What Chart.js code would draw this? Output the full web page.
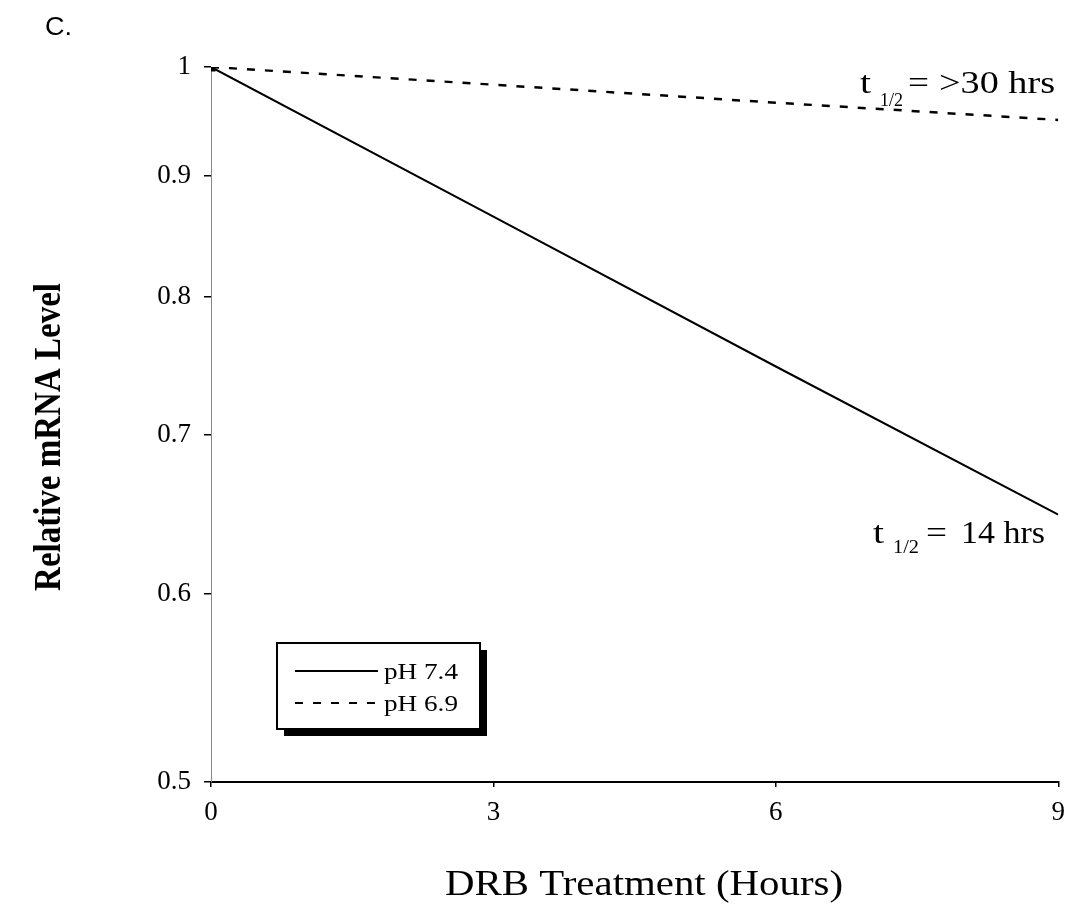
<!DOCTYPE html>
<html>
<head>
<meta charset="utf-8">
<script src="https://cdn.jsdelivr.net/npm/chart.js@4"></script>
<style>
html,body{margin:0;padding:0;background:#fff;}
canvas{display:block;}
</style>
</head>
<body>
<canvas id="c" width="1075" height="904"></canvas>
<script>
// ---- data ----
const hours = [0, 3, 6, 9];
const ph74 = [1.0, 0.865, 0.748, 0.648];
const ph69 = [1.0, 0.983, 0.966, 0.950];
const seriesLabels = ['pH 7.4', 'pH 6.9'];
const yTickValues = [0.5, 0.6, 0.7, 0.8, 0.9, 1];
const xTickValues = [0, 3, 6, 9];
const panelLabel = 'C.';
const xTitle = 'DRB Treatment (Hours)';
const yTitle = 'Relative mRNA Level';
const halfLives = ['>30 hrs', '14 hrs'];

const SERIF = '"Liberation Serif", "Times New Roman", serif';

// draw text horizontally scaled so it spans the given width
function fitText(ctx, text, x, y, width, font) {
  ctx.save();
  ctx.font = font;
  ctx.textAlign = 'left';
  const w = ctx.measureText(text).width;
  ctx.translate(x, y);
  ctx.scale(width / w, 1);
  ctx.fillText(text, 0, 0);
  ctx.restore();
}

const textPlugin = {
  id: 'texts',
  afterDraw(chart) {
    const ctx = chart.ctx;
    ctx.save();
    ctx.fillStyle = '#000';
    ctx.textBaseline = 'alphabetic';
    // panel label
    fitText(ctx, panelLabel, 45, 35, 27, '25px "Liberation Sans", Arial, sans-serif');
    // x title
    fitText(ctx, xTitle, 445, 895, 398, '35px ' + SERIF);
    // y title (rotated)
    ctx.save();
    ctx.translate(60, 437);
    ctx.rotate(-Math.PI / 2);
    ctx.scale(1, 1.12);
    ctx.font = 'bold 33px ' + SERIF;
    ctx.textAlign = 'center';
    ctx.fillText(yTitle, 0, 0);
    ctx.restore();
    // half-life annotations
    fitText(ctx, 't', 860, 93, 11, '32px ' + SERIF);
    fitText(ctx, '1/2', 880, 106, 23, '19px ' + SERIF);
    fitText(ctx, '=', 908, 93, 21, '32px ' + SERIF);
    fitText(ctx, halfLives[0], 939, 93, 116, '32px ' + SERIF);

    fitText(ctx, 't', 873, 543, 11, '32px ' + SERIF);
    fitText(ctx, '1/2', 893, 553, 26, '19px ' + SERIF);
    fitText(ctx, '=', 926, 543, 21, '32px ' + SERIF);
    fitText(ctx, halfLives[1], 961, 543, 84, '32px ' + SERIF);

    // legend box
    const bx = 277, by = 643, bw = 203, bh = 86;
    ctx.fillStyle = '#000';
    ctx.fillRect(bx + 7, by + 7, bw, bh);
    ctx.fillStyle = '#fff';
    ctx.fillRect(bx, by, bw, bh);
    ctx.strokeStyle = '#000';
    ctx.lineWidth = 2;
    ctx.strokeRect(bx, by, bw, bh);
    const ds = chart.data.datasets;
    const rowsY = [671, 703];
    ds.forEach((d, i) => {
      ctx.beginPath();
      ctx.lineWidth = 2;
      ctx.setLineDash(d.borderDash || []);
      ctx.moveTo(295, rowsY[i]);
      ctx.lineTo(378, rowsY[i]);
      ctx.stroke();
      ctx.setLineDash([]);
      ctx.fillStyle = '#000';
      fitText(ctx, d.label, 384, rowsY[i] + 8, 74, '24px ' + SERIF);
    });
    ctx.restore();
  }
};

new Chart(document.getElementById('c'), {
  type: 'line',
  data: {
    datasets: [
      {
        label: seriesLabels[0],
        data: hours.map((h, i) => ({x: h, y: ph74[i]})),
        borderColor: '#000',
        backgroundColor: '#000',
        borderWidth: 2,
        pointRadius: [5, 0, 0, 0],
        pointStyle: 'rect',
        tension: 0,
        fill: false
      },
      {
        label: seriesLabels[1],
        data: hours.map((h, i) => ({x: h, y: ph69[i]})),
        borderColor: '#000',
        backgroundColor: '#000',
        borderWidth: 2.5,
        borderDash: [8, 10],
        pointRadius: 0,
        tension: 0,
        fill: false
      }
    ]
  },
  options: {
    responsive: false,
    animation: false,
    layout: {padding: {left: 0, top: 67, right: 7, bottom: 0}},
    plugins: {legend: {display: false}, tooltip: {enabled: false}},
    scales: {
      x: {
        type: 'linear',
        min: 0, max: 9,
        afterFit: s => { s.height = 122; },
        afterBuildTicks: s => { s.ticks = xTickValues.map(v => ({value: v})); },
        grid: {drawOnChartArea: false, drawTicks: true, tickLength: 5, color: '#000', lineWidth: 1.5},
        border: {display: true, color: '#000', width: 2},
        ticks: {color: '#000', font: {family: SERIF, size: 27}, padding: 10, maxRotation: 0, autoSkip: false}
      },
      y: {
        type: 'logarithmic',
        min: 0.5, max: 1,
        afterFit: s => { s.width = 211; },
        afterBuildTicks: s => { s.ticks = yTickValues.map(v => ({value: v})); },
        grid: {drawOnChartArea: false, drawTicks: true, tickLength: 7, color: '#000', lineWidth: 1.5},
        border: {display: true, color: '#888', width: 1, dash: [2, 5]},
        ticks: {
          color: '#000', font: {family: SERIF, size: 27}, padding: 13, autoSkip: false,
          callback: v => (v === 1 ? '1' : Number(v).toFixed(1))
        }
      }
    }
  },
  plugins: [textPlugin]
});
</script>
</body>
</html>
